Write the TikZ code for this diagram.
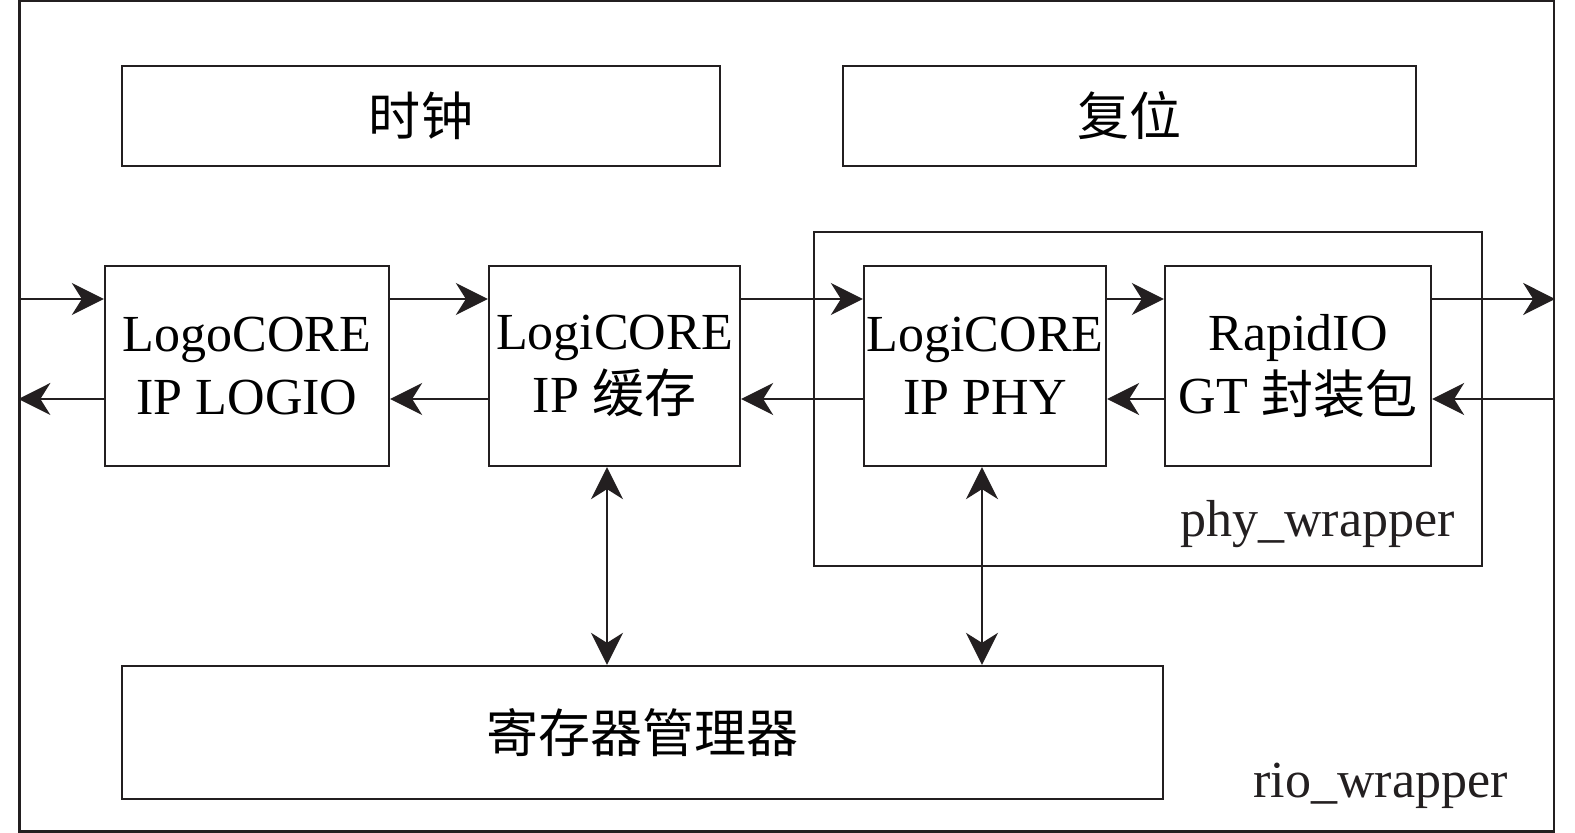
\documentclass[tikz,border=0pt]{standalone}
\usepackage{fontspec}
\setmainfont{Liberation Serif}
\newfontfamily\cjk{Noto Sans CJK SC}
\usetikzlibrary{arrows.meta}
\definecolor{ink}{HTML}{231F20}

\begin{document}
\begin{tikzpicture}[font=\fontsize{29.6}{35.9}\selectfont,
  frame/.style={draw=ink,line width=1.3pt,inner sep=0pt},
  block/.style={draw=ink,line width=1.3pt,align=center,inner sep=0pt,minimum height=4cm},
  bar/.style={draw=ink,line width=1.3pt,inner sep=0pt},
  arr/.style={-{Stealth[length=0.64cm,width=0.64cm,inset=0.2cm]},line width=1.3pt,ink},
  biarr/.style={{Stealth[length=0.64cm,width=0.64cm,inset=0.2cm]}-{Stealth[length=0.64cm,width=0.64cm,inset=0.2cm]},line width=1.3pt,ink},
  lbl/.style={text=ink,inner sep=0pt}]
  \useasboundingbox (0,0) rectangle (31.5,16.66);
  \fill[white] (0,0) rectangle (31.5,16.66);

  % ===== wrappers =====
  \node[frame,minimum width=30.69cm,minimum height=16.61cm] (rio) at (15.735,8.335) {};
  \node[frame,minimum width=13.36cm,minimum height=6.68cm] (phyw) at (22.96,8.68) {};
  \node[lbl,anchor=base east] (phylbl) at (29.10,5.92) {phy\_wrapper};
  \node[lbl,anchor=base east] (riolbl) at (30.16,0.70) {rio\_wrapper};

  % ===== clock / reset =====
  \node[bar,minimum width=11.96cm,minimum height=2cm] (clk) at (8.42,14.34) {\cjk 时钟};
  \node[bar,minimum width=11.46cm,minimum height=2cm] (rst) at (22.59,14.34) {\cjk 复位};

  % ===== cores =====
  \node[block,minimum width=5.68cm] (logio) at (4.94,9.34) {LogoCORE\\IP LOGIO};
  \node[block,minimum width=5.02cm] (cache) at (12.29,9.34) {LogiCORE\\IP {\cjk 缓存}};
  \node[block,minimum width=4.84cm] (phy) at (19.70,9.34) {LogiCORE\\IP PHY};
  \node[block,minimum width=5.32cm] (gt) at (25.96,9.34) {RapidIO\\GT {\cjk 封装包}};

  \node[bar,minimum width=20.82cm,minimum height=2.66cm] (reg) at (12.85,2.01) {\cjk 寄存器管理器};

  % ===== data paths =====
  \draw[arr] (rio.west |- 0,10.68) -- (logio.west |- 0,10.68);
  \draw[arr] (logio.west |- 0,8.68) -- (rio.west |- 0,8.68);
  \draw[arr] (logio.east |- 0,10.68) -- (cache.west |- 0,10.68);
  \draw[arr] (cache.west |- 0,8.68) -- (logio.east |- 0,8.68);
  \draw[arr] (cache.east |- 0,10.68) -- (phy.west |- 0,10.68);
  \draw[arr] (phy.west |- 0,8.68) -- (cache.east |- 0,8.68);
  \draw[arr] (phy.east |- 0,10.68) -- (gt.west |- 0,10.68);
  \draw[arr] (gt.west |- 0,8.68) -- (phy.east |- 0,8.68);
  \draw[arr] (gt.east |- 0,10.68) -- (rio.east |- 0,10.68);
  \draw[arr] (rio.east |- 0,8.68) -- (gt.east |- 0,8.68);

  % ===== register access =====
  \draw[biarr] (cache.south -| 12.14,0) -- (reg.north -| 12.14,0);
  \draw[biarr] (phy.south -| 19.64,0) -- (reg.north -| 19.64,0);
\end{tikzpicture}
\end{document}
